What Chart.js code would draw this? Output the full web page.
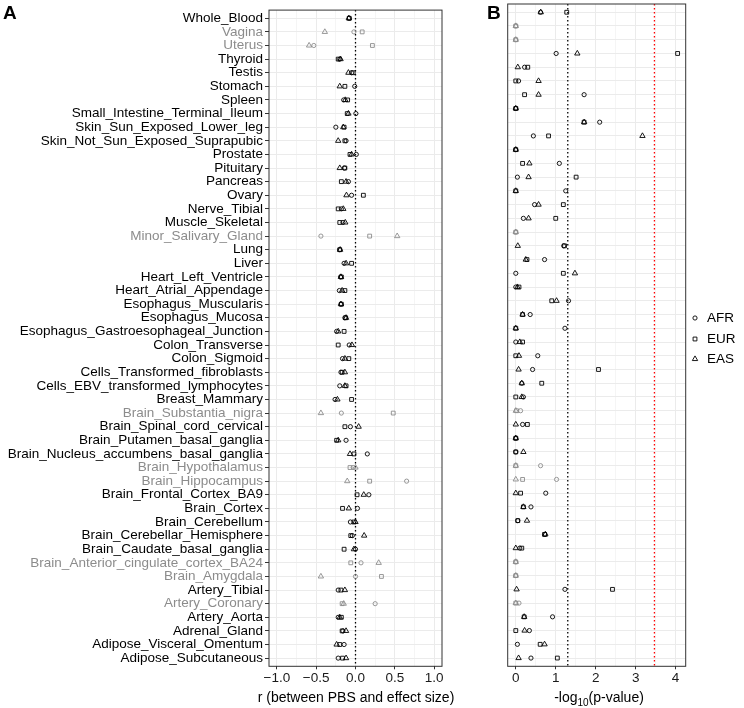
<!DOCTYPE html>
<html>
<head>
    <title>PBS vs effect size by tissue</title>
    <script src="https://cdn.jsdelivr.net/npm/chart.js"></script>
    <style>
        body { margin: 0; background: #fff; font-family: 'Liberation Sans', Arial, sans-serif; }
        #wrap { position: relative; width: 744px; height: 708px; }
        canvas { position: absolute; top: 0; }
        .tag { position: absolute; font-weight: bold; font-size: 19px; line-height: 19px; }
        .axtitle { position: absolute; top: 688px; width: 260px; text-align: center; font-size: 14px; line-height: 18px; white-space: nowrap; }
        .axtitle sub { font-size: 10px; }
    </style>
</head>
<body>
<div id="wrap">
    <canvas id="chartA" width="450" height="708" style="left:0"></canvas>
    <canvas id="chartB" width="294" height="708" style="left:450px"></canvas>
    <div class="tag" style="left:3px;top:3px">A</div>
    <div class="tag" style="left:487px;top:3px">B</div>
    <div class="axtitle" style="left:226px">r (between PBS and effect size)</div>
    <div class="axtitle" style="left:469px">-log<sub>10</sub>(p-value)</div>
</div>
<script>
const tissues = ['Whole_Blood', 'Vagina', 'Uterus', 'Thyroid', 'Testis', 'Stomach', 'Spleen',
    'Small_Intestine_Terminal_Ileum', 'Skin_Sun_Exposed_Lower_leg', 'Skin_Not_Sun_Exposed_Suprapubic',
    'Prostate', 'Pituitary', 'Pancreas', 'Ovary', 'Nerve_Tibial', 'Muscle_Skeletal', 'Minor_Salivary_Gland',
    'Lung', 'Liver', 'Heart_Left_Ventricle', 'Heart_Atrial_Appendage', 'Esophagus_Muscularis',
    'Esophagus_Mucosa', 'Esophagus_Gastroesophageal_Junction', 'Colon_Transverse', 'Colon_Sigmoid',
    'Cells_Transformed_fibroblasts', 'Cells_EBV_transformed_lymphocytes', 'Breast_Mammary',
    'Brain_Substantia_nigra', 'Brain_Spinal_cord_cervical', 'Brain_Putamen_basal_ganglia',
    'Brain_Nucleus_accumbens_basal_ganglia', 'Brain_Hypothalamus', 'Brain_Hippocampus',
    'Brain_Frontal_Cortex_BA9', 'Brain_Cortex', 'Brain_Cerebellum', 'Brain_Cerebellar_Hemisphere',
    'Brain_Caudate_basal_ganglia', 'Brain_Anterior_cingulate_cortex_BA24', 'Brain_Amygdala',
    'Artery_Tibial', 'Artery_Coronary', 'Artery_Aorta', 'Adrenal_Gland', 'Adipose_Visceral_Omentum',
    'Adipose_Subcutaneous'];

// small-sample tissues, shown in grey
const greyTissues = ['Vagina', 'Uterus', 'Minor_Salivary_Gland', 'Brain_Substantia_nigra',
    'Brain_Hypothalamus', 'Brain_Hippocampus', 'Brain_Anterior_cingulate_cortex_BA24',
    'Brain_Amygdala', 'Artery_Coronary'];

const populations = ['AFR', 'EUR', 'EAS'];

// panel A: r (between PBS and effect size)
const rAFR = [-0.08, -0.02, -0.53, -0.2, -0.05, -0.01, -0.15, 0.005, -0.25, -0.12, 0.01, -0.14,
    -0.09, -0.05, -0.18, -0.16, -0.44, -0.2, -0.145, -0.19, -0.205, -0.185, -0.135, -0.24,
    -0.08, -0.165, -0.185, -0.2, -0.26, -0.18, -0.065, -0.12, 0.15, -0.03, 0.65, 0.17,
    0.025, -0.065, -0.04, 0.0, 0.07, 0.0, -0.22, 0.25, -0.22, -0.16, -0.145, -0.22];
const rEUR = [-0.08, 0.085, 0.215, -0.22, -0.03, -0.135, -0.1, -0.105, -0.145, -0.135, -0.07, -0.135,
    -0.18, 0.1, -0.22, -0.2, 0.18, -0.2, -0.05, -0.18, -0.135, -0.18, -0.125, -0.145,
    -0.22, -0.085, -0.17, -0.12, -0.05, 0.48, -0.135, -0.24, -0.02, -0.07, 0.18, 0.02,
    -0.165, -0.02, -0.06, -0.145, -0.06, 0.33, -0.185, -0.17, -0.18, -0.17, -0.2, -0.165];
const rEAS = [-0.085, -0.39, -0.59, -0.19, -0.09, -0.2, -0.13, -0.09, -0.155, -0.22, -0.05, -0.2,
    -0.12, -0.115, -0.155, -0.13, 0.53, -0.195, -0.12, -0.185, -0.17, -0.185, -0.12, -0.22,
    -0.045, -0.135, -0.135, -0.135, -0.23, -0.44, 0.04, -0.22, -0.07, 0.0, -0.105, 0.105,
    -0.085, 0.0, 0.11, -0.02, 0.295, -0.44, -0.135, -0.15, -0.2, -0.12, -0.24, -0.12];

// panel B: -log10(p-value)
const pAFR = [0.62, 0, 0, 1.01, 0.22, 0.07, 1.71, 0, 2.1, 0.44, 0, 1.09,
    0.04, 1.25, 0.47, 0.19, 0, 1.2, 0.72, 0, 0, 1.32, 0.36, 1.23,
    0, 0.55, 0.42, 0.15, 0.19, 0.12, 0.17, 0, 0, 0.62, 1.02, 0.75,
    0.38, 0.05, 0.73, 0.1, 0, 0, 1.23, 0.08, 0.92, 0.34, 0.04, 0.38];
const pEUR = [1.275, 0, 0, 4.05, 0.3, 0, 0.22, 0, 1.71, 0.82, 0, 0.17,
    1.51, 0, 1.19, 1.0, 0, 1.22, 0.28, 1.19, 0.08, 0.9, 0.17, 0,
    0.17, 0, 2.07, 0.65, 0, 0.02, 0.29, 0, 0, 0, 0.17, 0.12,
    0.19, 0.05, 0.72, 0.15, 0, 0, 2.42, 0, 0.21, 0, 0.61, 1.04];
const pEAS = [0.625, 0, 0, 1.54, 0.05, 0.57, 0.57, 0, 1.71, 3.17, 0, 0.34,
    0.32, 0, 0.57, 0.32, 0, 0.05, 0.25, 1.48, 0.04, 1.02, 0.17, 0,
    0.1, 0.08, 0.07, 0.15, 0.15, 0, 0, 0, 0.19, 0, 0, 0,
    0.19, 0.28, 0.74, 0, 0, 0, 0.02, 0, 0.21, 0.22, 0.72, 0.07];

const xTicksA = [-1, -0.75, -0.5, -0.25, 0, 0.25, 0.5, 0.75, 1];
const xTicksB = [0, 0.5, 1, 1.5, 2, 2.5, 3, 3.5, 4];
const refLineA = 0;
const nominalLineB = 1.30103;   // p = 0.05
const bonferroniLineB = 3.47;

const BLACK = '#000000';
const GREY = '#8c8c8c';
const GRID = '#ebebeb';
const FRAME = '#333333';

Chart.defaults.font.family = "'Liberation Sans', Arial, sans-serif";
Chart.defaults.color = '#000';

const isGrey = i => greyTissues.includes(tissues[i]);
const pointColors = tissues.map((t, i) => isGrey(i) ? GREY : BLACK);
const yMin = -0.6, yMax = tissues.length - 0.4;
const rowTicks = tissues.map((t, i) => ({ value: i }));

const shapes = { AFR: ['circle', 2.1], EUR: ['rect', 2.7], EAS: ['triangle', 3.1] };

function pointSets(values) {
    return populations.map((pop, k) => ({
        type: 'scatter',
        label: pop,
        data: values[k].map((v, i) => ({ x: v, y: i })),
        pointStyle: shapes[pop][0],
        pointRadius: shapes[pop][1],
        pointBorderWidth: 0.9,
        pointBackgroundColor: 'rgba(0,0,0,0)',
        pointBorderColor: pointColors,
        pointHoverRadius: shapes[pop][1]
    }));
}

function vline(x, color) {
    return {
        type: 'line',
        data: [{ x: x, y: yMin }, { x: x, y: yMax }],
        borderColor: color,
        borderWidth: 1.3,
        borderDash: [1.4, 2.6],
        pointRadius: 0,
        fill: false
    };
}

const panelBorder = {
    id: 'panelBorder',
    afterDraw(chart) {
        const a = chart.chartArea, ctx = chart.ctx;
        ctx.save();
        ctx.strokeStyle = FRAME;
        ctx.lineWidth = 1;
        ctx.strokeRect(a.left, a.top, a.right - a.left, a.bottom - a.top);
        ctx.restore();
    }
};

const popLegend = {
    id: 'popLegend',
    afterDraw(chart) {
        const ctx = chart.ctx;
        const ys = [318, 339, 359];
        ctx.save();
        ctx.font = "13.5px 'Liberation Sans', Arial, sans-serif";
        ctx.textBaseline = 'middle';
        populations.forEach((pop, k) => {
            ctx.fillStyle = 'rgba(0,0,0,0)';
            ctx.strokeStyle = '#000';
            ctx.lineWidth = 0.9;
            Chart.helpers.drawPoint(ctx, {
                pointStyle: shapes[pop][0], radius: shapes[pop][1], borderWidth: 0.9, rotation: 0
            }, 245, ys[k]);
            ctx.fillStyle = '#000';
            ctx.fillText(pop, 257, ys[k]);
        });
        ctx.restore();
    }
};

function fmtA(v) {
    return (v < 0 ? '\u2212' : '') + Math.abs(v).toFixed(1);
}

const isMajorA = v => Math.abs(v * 2 - Math.round(v * 2)) < 1e-6;
const isMajorB = v => Math.abs(v - Math.round(v)) < 1e-6;

function xScale(min, max, ticksList, isMajor, fmt) {
    return {
        type: 'linear',
        min: min,
        max: max,
        afterBuildTicks: s => { s.ticks = ticksList.map(v => ({ value: v })); },
        afterFit: s => { s.height = 39.7; },
        border: { display: false },
        grid: {
            color: GRID,
            lineWidth: ctx => isMajor(ctx.tick.value) ? 1 : 0.5,
            tickColor: ctx => isMajor(ctx.tick.value) ? FRAME : 'rgba(0,0,0,0)',
            tickLength: 3
        },
        ticks: {
            autoSkip: false,
            maxRotation: 0,
            padding: 1,
            color: '#1a1a1a',
            font: { size: 13.5 },
            callback: v => isMajor(v) ? fmt(v) : ''
        }
    };
}

new Chart(document.getElementById('chartA'), {
    type: 'scatter',
    data: { datasets: [...pointSets([rAFR, rEUR, rEAS]), vline(refLineA, BLACK)] },
    options: {
        responsive: false,
        animation: false,
        devicePixelRatio: 1,
        layout: { padding: { top: 2.7, right: 8, bottom: 2, left: 0 } },
        plugins: { legend: { display: false }, tooltip: { enabled: false } },
        scales: {
            x: xScale(-1.1, 1.1, xTicksA, isMajorA, fmtA),
            y: {
                type: 'linear',
                reverse: true,
                min: yMin,
                max: yMax,
                afterBuildTicks: s => { s.ticks = rowTicks.map(t => ({ value: t.value })); },
                afterFit: s => { s.width = 269; },
                border: { display: false },
                grid: { color: GRID, lineWidth: 1, tickColor: FRAME, tickLength: 4 },
                ticks: {
                    autoSkip: false,
                    padding: 2,
                    font: { size: 13.5 },
                    color: ctx => isGrey(ctx.index) ? GREY : BLACK,
                    callback: v => tissues[v]
                }
            }
        }
    },
    plugins: [panelBorder]
});

new Chart(document.getElementById('chartB'), {
    type: 'scatter',
    data: { datasets: [...pointSets([pAFR, pEUR, pEAS]), vline(nominalLineB, BLACK), vline(bonferroniLineB, '#ff0000')] },
    options: {
        responsive: false,
        animation: false,
        devicePixelRatio: 1,
        layout: { padding: { top: 2.7, right: 58.3, bottom: 2, left: 0 } },
        plugins: { legend: { display: false }, tooltip: { enabled: false } },
        scales: {
            x: xScale(-0.2025, 4.2525, xTicksB, isMajorB, v => String(v)),
            y: {
                type: 'linear',
                reverse: true,
                min: yMin,
                max: yMax,
                afterBuildTicks: s => { s.ticks = rowTicks.map(t => ({ value: t.value })); },
                afterFit: s => { s.width = 57.7; },
                border: { display: false },
                grid: { color: GRID, lineWidth: 1, drawTicks: false },
                ticks: { display: false }
            }
        }
    },
    plugins: [panelBorder, popLegend]
});
</script>
</body>
</html>
